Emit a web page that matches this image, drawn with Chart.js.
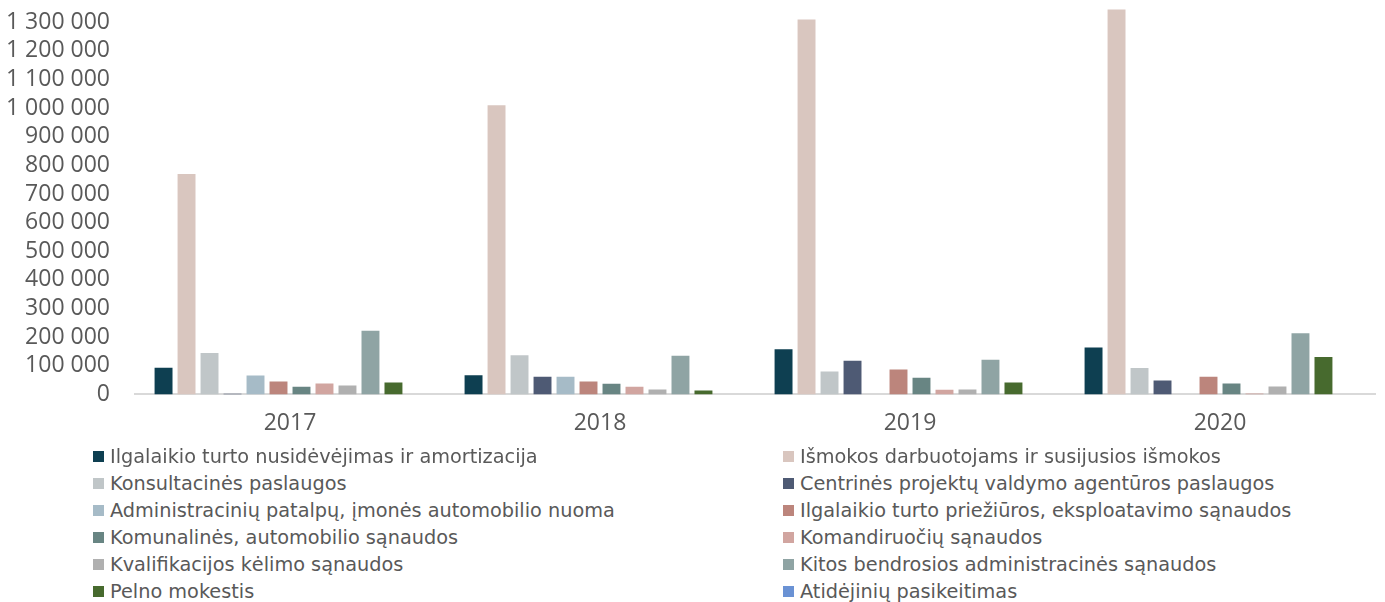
<!DOCTYPE html>
<html>
<head>
<meta charset="utf-8">
<script src="https://cdn.jsdelivr.net/npm/chart.js@4"></script>
<style>
  body { margin: 0; background: #fff; width: 1385px; height: 602px; overflow: hidden; }
  #wrap { position: absolute; left: 0; top: 0; width: 1385px; height: 452px; }
  #legend { position: absolute; left: 0; top: 443px; width: 1385px; font-family: "DejaVu Sans", sans-serif; font-size: 19.3px; color: #595959; }
  .item { position: absolute; height: 27px; line-height: 27px; white-space: nowrap; }
  .box { display: inline-block; width: 11px; height: 11px; margin-right: 6px; vertical-align: middle; position: relative; top: -1px; }
</style>
</head>
<body>
<div id="wrap"><canvas id="costChart"></canvas></div>
<div id="legend"></div>
<script>
const years = ["2017", "2018", "2019", "2020"];

const seriesNames = [
    "Ilgalaikio turto nusidėvėjimas ir amortizacija",
    "Išmokos darbuotojams ir susijusios išmokos",
    "Konsultacinės paslaugos",
    "Centrinės projektų valdymo agentūros paslaugos",
    "Administracinių patalpų, įmonės automobilio nuoma",
    "Ilgalaikio turto priežiūros, eksploatavimo sąnaudos",
    "Komunalinės, automobilio sąnaudos",
    "Komandiruočių sąnaudos",
    "Kvalifikacijos kėlimo sąnaudos",
    "Kitos bendrosios administracinės sąnaudos",
    "Pelno mokestis",
    "Atidėjinių pasikeitimas"
];

const seriesColors = [
    "#0E3F51", "#D9C6BF", "#C0C6C8", "#4E5A74", "#A6BBC7", "#BC857C",
    "#688583", "#D1A5A0", "#B0B0B0", "#8FA4A4", "#476A2E", "#6A92D4"
];

// values per series, one per year (2017..2020)
const amortizacija   = [93000, 67000, 158000, 164000];
const ismokos        = [770000, 1010000, 1310000, 1345000];
const konsultacines  = [145000, 137000, 80000, 92000];
const cpva           = [2000, 62000, 118000, 49000];
const nuoma          = [66000, 62000, 0, 0];
const prieziura      = [45000, 45000, 87000, 62000];
const komunalines    = [27000, 37000, 58000, 38000];
const komandiruotes  = [38000, 27000, 16000, 3000];
const kvalifikacija  = [31000, 17000, 17000, 28000];
const kitos          = [222000, 135000, 121000, 214000];
const pelnoMokestis  = [42000, 14000, 42000, 131000];
const atidejiniai    = [0, 0, 0, 0];

const seriesValues = [
    amortizacija, ismokos, konsultacines, cpva, nuoma, prieziura,
    komunalines, komandiruotes, kvalifikacija, kitos, pelnoMokestis, atidejiniai
];

// y axis ticks shown in the picture
const yTicks = [0, 100000, 200000, 300000, 400000, 500000, 600000,
                700000, 800000, 900000, 1000000, 1100000, 1200000, 1300000];
const yMax = 1350000;

function formatThousands(v) {
    return String(v).replace(/\B(?=(\d{3})+(?!\d))/g, " ");
}

const datasets = seriesNames.map((name, i) => ({
    label: name,
    data: seriesValues[i],
    backgroundColor: seriesColors[i],
    borderWidth: 0,
    barPercentage: 0.78,
    categoryPercentage: 0.89
}));

const tickFont = { family: "'Open Sans', sans-serif", size: 23 };

const ctx = document.getElementById("costChart").getContext("2d");
const chart = new Chart(ctx, {
    type: "bar",
    data: { labels: years, datasets: datasets },
    options: {
        responsive: true,
        maintainAspectRatio: false,
        animation: false,
        layout: { padding: { top: 8, right: 10, bottom: 0, left: 0 } },
        plugins: {
            legend: { display: false },
            tooltip: { enabled: false }
        },
        scales: {
            x: {
                grid: { display: false, drawTicks: false },
                border: { display: true, color: "#D9D9D9", width: 2 },
                ticks: { color: "#595959", font: tickFont, padding: 15 }
            },
            y: {
                min: 0,
                max: yMax,
                afterBuildTicks: axis => { axis.ticks = yTicks.map(v => ({ value: v })); },
                afterFit: scale => {
                    scale.width = 135;
                    scale.paddingTop = 0;
                    scale.paddingBottom = 0;
                },
                grid: { display: false, drawTicks: false },
                border: { display: false },
                ticks: {
                    autoSkip: false,
                    color: "#595959",
                    font: tickFont,
                    padding: 25,
                    callback: v => formatThousands(v)
                }
            }
        }
    }
});

// two-column legend under the chart
const legendEl = document.getElementById("legend");
chart.data.datasets.forEach((ds, i) => {
    const item = document.createElement("div");
    item.className = "item";
    const col = i % 2;
    const row = Math.floor(i / 2);
    item.style.left = (col === 0 ? 93 : 783) + "px";
    item.style.top = (row * 27) + "px";
    const box = document.createElement("span");
    box.className = "box";
    box.style.background = ds.backgroundColor;
    item.appendChild(box);
    item.appendChild(document.createTextNode(ds.label));
    legendEl.appendChild(item);
});
</script>
</body>
</html>
